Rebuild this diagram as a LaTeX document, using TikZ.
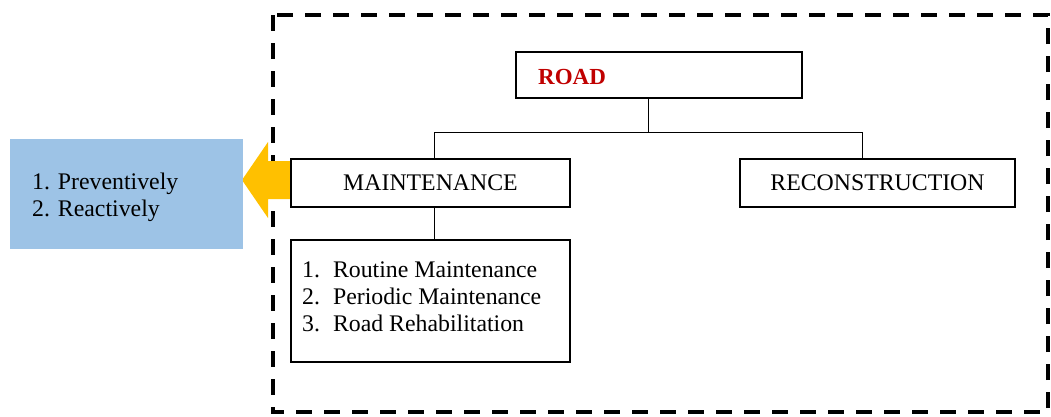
\documentclass[tikz,border=0pt]{standalone}
\usepackage{fontspec}
\setmainfont{Liberation Serif}
\begin{document}
\begin{tikzpicture}[x=1pt,y=-1pt,
  box/.style={draw=black,line width=1.7pt,rectangle,inner sep=0pt},
  conn/.style={draw=black,line width=1pt},
  txt/.style={font=\fontsize{23.8}{27}\selectfont},
  lbl/.style={txt,align=left,inner sep=0pt,anchor=west}]
\useasboundingbox (0,0) rectangle (1051,416);
\definecolor{roadred}{RGB}{192,0,0}
\definecolor{lightblue}{RGB}{157,195,230}
\definecolor{arrowyellow}{RGB}{255,192,0}
% dashed frame
\draw[line width=3.5pt,dash pattern=on 16pt off 12pt] (273,15) rectangle (1048,412);
% yellow arrow (behind the boxes)
\coordinate (ashaft) at (292,180);
\fill[arrowyellow] (ashaft |- 0,161) -- (268,161) -- (268,142) -- (242,180) -- (268,218) -- (268,199) -- (ashaft |- 0,199) -- cycle;
% boxes
\node[box,minimum width=286pt,minimum height=46pt] (road) at (659,75) {};
\node[font=\bfseries\fontsize{23}{27}\selectfont,text=roadred,inner sep=0pt,anchor=west] (roadtxt) at (538,77) {ROAD};
\node[box,fill=white,minimum width=279pt,minimum height=48pt,txt] (maint) at (430.5,183) {MAINTENANCE};
\node[box,minimum width=275pt,minimum height=48pt,txt] (recon) at (877.5,183) {RECONSTRUCTION};
\node[box,minimum width=279pt,minimum height=122pt] (list) at (430.5,301) {};
\node[lbl] (listtxt) at (302,297) {1.\hspace{13pt}Routine Maintenance\\2.\hspace{13pt}Periodic Maintenance\\3.\hspace{13pt}Road Rehabilitation};
\node[fill=lightblue,minimum width=233pt,minimum height=110pt,inner sep=0pt] (blue) at (126.5,194) {};
\node[lbl] (bluetxt) at (32,197.5) {1. Preventively\\2. Reactively};
% connectors
\coordinate (junc) at (648,132);
\coordinate (jl) at (434,132);
\coordinate (jr) at (862,132);
\draw[conn] (road.south -| junc) -- (junc);
\draw[conn] (jl) -- (jr);
\draw[conn] (jl) -- (maint.north -| jl);
\draw[conn] (jr) -- (recon.north -| jr);
\draw[conn] (maint.south -| jl) -- (list.north -| jl);
\end{tikzpicture}
\end{document}
